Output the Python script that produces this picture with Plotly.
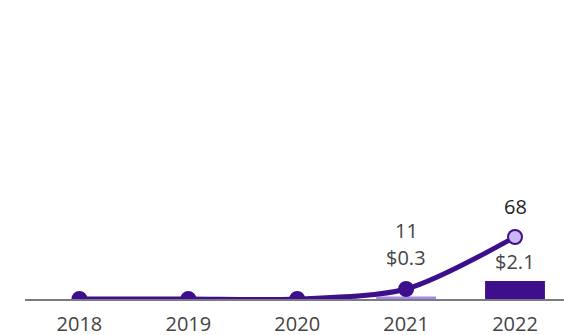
import plotly.graph_objects as go

years = ["2018", "2019", "2020", "2021", "2022"]
bar_values = [0, 0, 0, 0.3, 2.1]
bar_labels = ["", "", "", "$0.3", "$2.1"]
line_values = [0, 0, 0, 11, 68]
line_labels = ["", "", "", "11", "68"]

dark = "#3d0f8c"
light_bar = "#a48ae3"
light_marker = "#cbb8f2"

bar_colors = [dark if i == len(years) - 1 else light_bar for i in range(len(years))]
marker_fill = [light_marker if i == len(years) - 1 else dark for i in range(len(years))]

fig = go.Figure()
fig.add_trace(go.Bar(
    x=years, y=bar_values, marker=dict(color=bar_colors, line=dict(width=0)),
    width=0.55, yaxis="y", hoverinfo="skip", showlegend=False,
))
fig.add_trace(go.Scatter(
    x=years, y=line_values, yaxis="y2", mode="lines+markers",
    line=dict(color=dark, width=5, shape="spline", smoothing=0.8),
    marker=dict(size=14, color=marker_fill, line=dict(color=dark, width=2)),
    hoverinfo="skip", showlegend=False,
))

lab_font = dict(family="Open Sans", size=20, color="#444")
annotations = [
    dict(x=3, xref="x", y=line_values[3], yref="y2", text=line_labels[3],
         showarrow=False, yshift=58, font=lab_font),
    dict(x=3, xref="x", y=line_values[3], yref="y2", text=bar_labels[3],
         showarrow=False, yshift=31, font=lab_font),
    dict(x=4, xref="x", y=line_values[4], yref="y2", text=line_labels[4],
         showarrow=False, yshift=31, font=dict(family="Open Sans", size=20, color="#222")),
    dict(x=4, xref="x", y=bar_values[4], yref="y", text=bar_labels[4],
         showarrow=False, yshift=20, font=lab_font),
]

fig.update_layout(
    width=564, height=335,
    margin=dict(l=25, r=0, t=0, b=36),
    plot_bgcolor="white", paper_bgcolor="white",
    font=dict(family="Open Sans", size=20, color="#444"),
    xaxis=dict(type="category", range=[-0.5, 4.45], showline=True, linecolor="#7a7a80",
               linewidth=2, ticks="", showgrid=False, ticklabelstandoff=6, automargin=False,
               tickfont=dict(size=20, color="#444")),
    yaxis=dict(range=[0, 34.9], visible=False, showgrid=False, zeroline=False),
    yaxis2=dict(range=[0, 328], overlaying="y", visible=False, showgrid=False, zeroline=False),
    annotations=annotations,
)

fig.write_html("out.html", config={"displayModeBar": False},
               post_script="document.body.style.margin='0';document.body.style.overflow='hidden';")
